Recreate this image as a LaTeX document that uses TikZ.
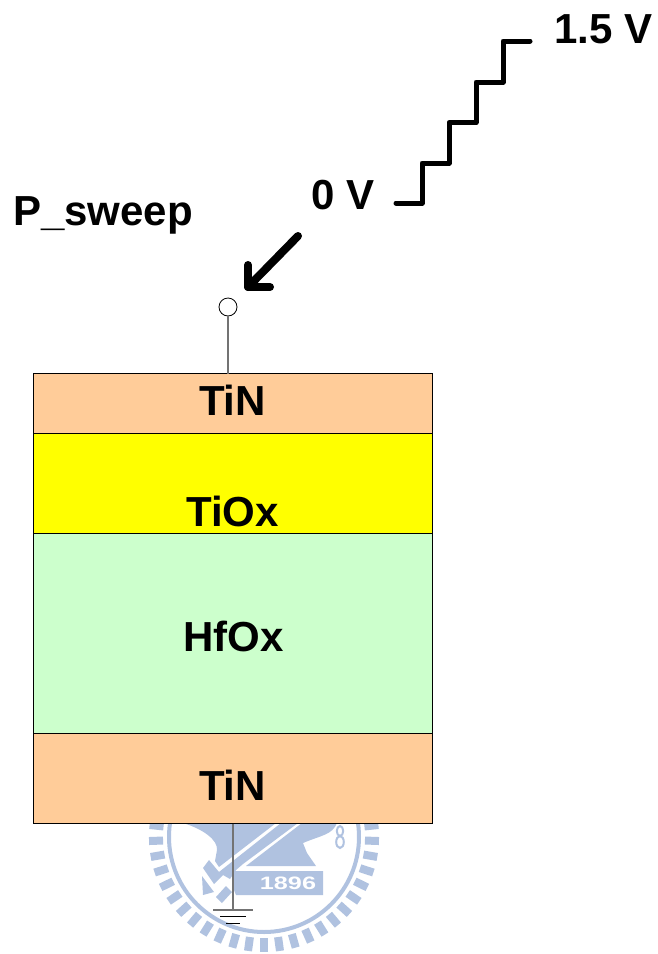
\documentclass[tikz,border=0pt]{standalone}
\usepackage{fontspec}
\setmainfont{Liberation Sans}
\definecolor{seal}{RGB}{176,194,224}
\definecolor{tin}{RGB}{255,204,153}
\definecolor{tiox}{RGB}{255,255,0}
\definecolor{hfox}{RGB}{204,255,204}
\tikzset{
  layer/.style={draw=black,line width=0.8pt,minimum width=399pt,anchor=north west,inner sep=0pt,outer sep=0pt},
  lab/.style={font=\bfseries\fontsize{42}{42}\selectfont,inner sep=0pt,text=black},
  thick line/.style={line width=5pt,line cap=round,line join=round},
  arrow line/.style={line width=8pt,line cap=round,line join=round},
  wire/.style={draw=black!55,line width=1.2pt},
}
\begin{document}
\begin{tikzpicture}[x=1pt,y=-1pt]
\useasboundingbox (0,0) rectangle (658,954);
\fill[white] (0,0) rectangle (658,954);
% seal watermark
\begin{scope}
 \foreach \a in {2,10,...,354}{
  \draw[seal,line width=8pt] (264,837)++(\a:101) -- ++(\a:14);
 }
 \draw[seal,line width=4pt] (264,837) circle (95);
 \fill[seal] (183,823) .. controls (203,829) and (218,840) .. (217,850) -- (215,861) -- (219,867) -- (276,823) -- cycle;
 \fill[seal] (209,860) -- (219,872) -- (281,823) -- (298,823) -- (243,864) -- (236,870) -- (230,879) -- (223,875) -- (214,884) -- (203,868) -- cycle;
 \fill[seal] (302,823) -- (337,823) .. controls (332,835) and (322,835) .. (303,843) -- (307,853) -- (316,866) -- (246,866) -- cycle;
 \fill[seal] (234,871) -- (323,871) -- (323,895) -- (236,895) -- (232,885) -- cycle;
 \fill[seal] (202,876) -- (214,892) -- (203,895) -- cycle;
 \fill[seal] (216,897) -- (222,903) -- (232,892) -- (226,886) -- cycle;
 \node[font=\bfseries\fontsize{18}{18}\selectfont,text=white,inner sep=0pt,xscale=1.4] (year) at (288,883) {1896};
 \draw[seal,line width=2pt] (340,831) ellipse (3.2 and 5) (340,842) ellipse (3.8 and 6);
\end{scope}
% layers
\node[layer,fill=tin,minimum height=60pt] (top) at (33,373.5) {};
\node[layer,fill=tiox,minimum height=100pt] (ti) at (33,433.5) {};
\node[layer,fill=hfox,minimum height=200pt] (hf) at (33,533.5) {};
\node[layer,fill=tin,minimum height=90pt] (bot) at (33,733.5) {};
\node[lab] (l1) at (232.5,400) {TiN};
\node[lab] (l2) at (232.5,511) {TiOx};
\node[lab] (l3) at (233.5,636) {HfOx};
\node[lab] (l4) at (232.5,785) {TiN};
% terminal
\node[circle,draw=black,line width=0.8pt,fill=white,minimum size=18pt,inner sep=0pt] (term) at (228,307) {};
\draw[wire] (term.south) -- (top.north -| term.south);
% ground
\coordinate (gnd) at (233,910);
\draw[wire] (bot.south -| gnd) -- (gnd);
\draw[wire] (213,910) -- (253,910);
\draw[black,line width=0.9pt] (220,916.5) -- (246,916.5);
\draw[black,line width=0.9pt] (226,923) -- (240,923);
% labels
\node[lab,anchor=west] (ps) at (13,215) {P\_sweep};
\node[lab] (zero) at (343,195) {0 V};
\node[lab,anchor=west] (hi) at (554,29.5) {1.5 V};
% staircase
\draw[thick line] (396,203) -- (422,203) -- (422,163) -- (449,163) -- (449,122.5) -- (476,122.5) -- (476,82) -- (503,82) -- (503,41) -- (530,41);
% arrow
\draw[arrow line] (298,236) -- (248,287);
\draw[arrow line] (248,265) -- (248,287) -- (270,287);
\end{tikzpicture}
\end{document}
